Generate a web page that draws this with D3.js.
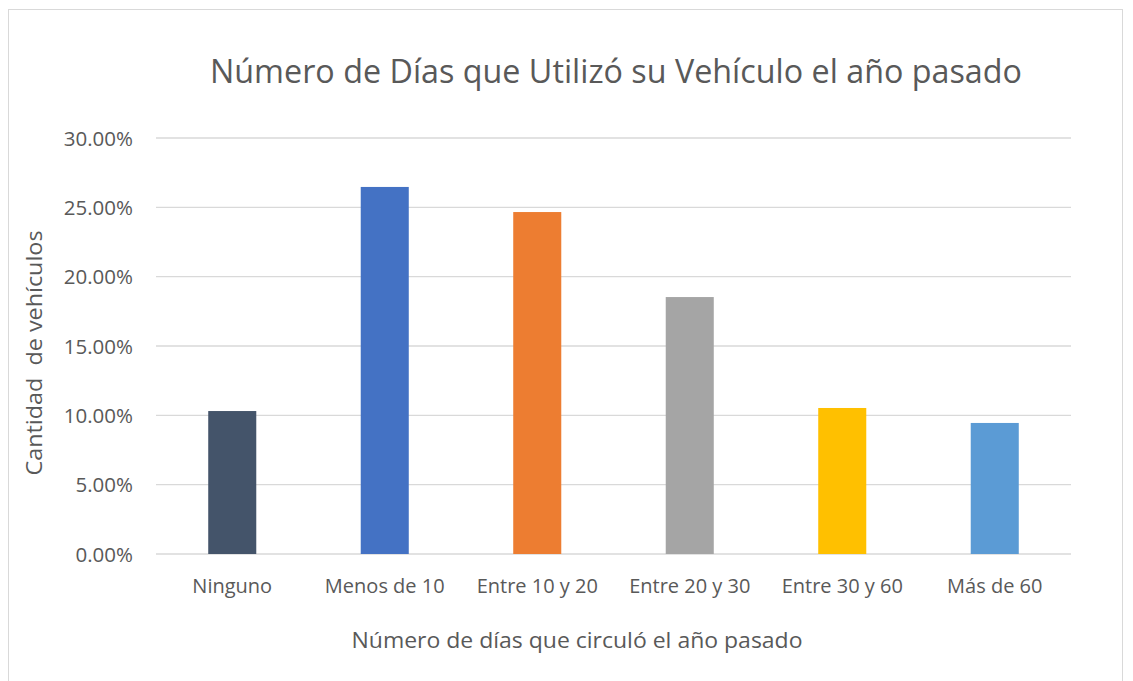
<!DOCTYPE html>
<html>
<head>
<meta charset="utf-8">
<script src="https://cdn.jsdelivr.net/npm/d3@7"></script>
<style>
  html, body { margin: 0; padding: 0; background: #fff; }
  svg { display: block; }
  text { font-family: "Open Sans", "Noto Sans", sans-serif; fill: #595959; }
</style>
</head>
<body>
<svg id="chart" width="1133" height="681"></svg>
<script>
const categories = ["Ninguno", "Menos de 10", "Entre 10 y 20", "Entre 20 y 30", "Entre 30 y 60", "Más de 60"];
const values = [0.1031, 0.2647, 0.2466, 0.1853, 0.1053, 0.0945];
const colors = ["#44546A", "#4472C4", "#ED7D31", "#A5A5A5", "#FFC000", "#5B9BD5"];
const yTicks = [0, 0.05, 0.10, 0.15, 0.20, 0.25, 0.30];
const titleText = "Número de Días que Utilizó su Vehículo el año pasado";
const xTitleText = "Número de días que circuló el año pasado";
const yTitleText = "Cantidad  de vehículos";

const svg = d3.select("#chart");
const plot = { left: 156, right: 1071, top: 138, bottom: 554 };

// chart border
svg.append("rect")
  .attr("x", 8.5).attr("y", 9.5)
  .attr("width", 1114).attr("height", 680)
  .attr("fill", "#fff").attr("stroke", "#D9D9D9").attr("stroke-width", 1);

const x = d3.scaleBand().domain(categories).range([plot.left, plot.right]).paddingInner(0.685).paddingOuter(0.3425);
const y = d3.scaleLinear().domain([0, 0.30]).range([plot.bottom, plot.top]);

// y axis labels
const yAxis = d3.axisLeft(y).tickValues(yTicks).tickFormat(d3.format(".2%")).tickSize(0).tickPadding(0);
const gy = svg.append("g").attr("transform", `translate(${plot.left},0)`).call(yAxis);
gy.select(".domain").remove();
gy.selectAll(".tick line").remove();
gy.selectAll(".tick text")
  .attr("x", -23).attr("dy", "0.35em")
  .style("font-size", "20.5px").attr("fill", "#595959").attr("text-anchor", "end");

// gridlines
svg.append("g").selectAll("line").data(yTicks).join("line")
  .attr("x1", plot.left).attr("x2", plot.right)
  .attr("y1", d => y(d)).attr("y2", d => y(d))
  .attr("stroke", "#D9D9D9").attr("stroke-width", 1.4);

// bars
svg.append("g").selectAll("rect").data(values).join("rect")
  .attr("x", (d, i) => x(categories[i]))
  .attr("width", x.bandwidth())
  .attr("y", d => y(d))
  .attr("height", d => y(0) - y(d))
  .attr("fill", (d, i) => colors[i]);

// x axis labels
const xAxis = d3.axisBottom(x).tickSize(0).tickPadding(0);
const gx = svg.append("g").attr("transform", `translate(0,${plot.bottom})`).call(xAxis);
gx.select(".domain").remove();
gx.selectAll(".tick text")
  .attr("y", 32).attr("dy", "0.35em")
  .style("font-size", "20px").attr("fill", "#595959");

// title
svg.append("text")
  .attr("x", 616).attr("y", 83)
  .attr("text-anchor", "middle")
  .style("font-size", "32px")
  .attr("textLength", 812).attr("lengthAdjust", "spacingAndGlyphs")
  .text(titleText);

// x title
svg.append("text")
  .attr("x", 577).attr("y", 648)
  .attr("text-anchor", "middle")
  .style("font-size", "21px")
  .attr("textLength", 451).attr("lengthAdjust", "spacingAndGlyphs")
  .text(xTitleText);

// y title
svg.append("text")
  .attr("transform", "translate(42,353) rotate(-90)")
  .attr("text-anchor", "middle")
  .style("font-size", "21px")
  .attr("textLength", 245).attr("lengthAdjust", "spacingAndGlyphs")
  .style("white-space", "pre")
  .attr("xml:space", "preserve")
  .text(yTitleText);
</script>
</body>
</html>
